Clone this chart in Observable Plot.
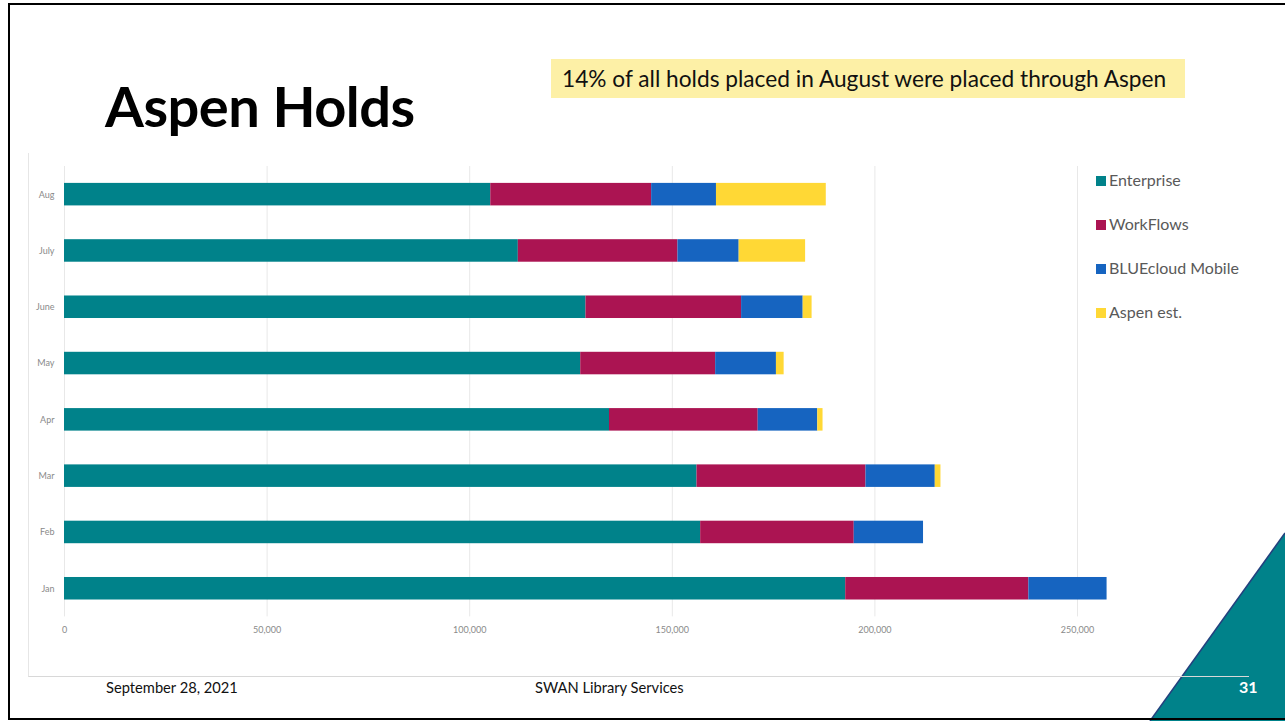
<!DOCTYPE html>
<html>
<head>
<meta charset="utf-8">
<script src="https://cdn.jsdelivr.net/npm/d3@7"></script>
<script src="https://cdn.jsdelivr.net/npm/@observablehq/plot@0.6"></script>
<style>
  body { margin: 0; background: #fff; font-family: Lato, "Open Sans", sans-serif; }
  #slide { position: relative; width: 1285px; height: 721px; overflow: hidden; background: #fff; }
  #border { position: absolute; left: 8px; top: 3px; width: 1290px; height: 713px;
            border-left: 2.5px solid #000; border-top: 2.5px solid #000; border-bottom: 2.5px solid #000; }
  #tri { position: absolute; left: 0; top: 0; }
  #title { position: absolute; left: 105px; top: 72px; font-size: 56px; font-weight: 700; color: #000; letter-spacing: -0.5px; }
  #note { position: absolute; left: 551px; top: 59px; width: 634px; height: 39px; background: #fdf0a6;
          font-size: 22.7px; line-height: 39px; color: #111; padding-left: 11px; box-sizing: border-box; white-space: nowrap; }
  #chart { position: absolute; left: 28px; top: 153px; width: 1220px; height: 523px;
           border-left: 1px solid #e6e6e6; border-bottom: 1px solid #d8d8d8; }
  #legend { position: absolute; left: 1096px; top: 169px; }
  .li { position: absolute; left: 0; width: 200px; height: 22px; font-size: 16px; color: #595959; white-space: nowrap; }
  .sw { position: absolute; left: 0; top: 7px; width: 10px; height: 10px; }
  .lt { position: absolute; left: 13px; top: 1px; }
  .foot { position: absolute; top: 678px; font-size: 14.7px; color: #111; white-space: nowrap; }
  #pg { position: absolute; left: 1239px; top: 677px; font-size: 16px; font-weight: 700; color: #fff; }
</style>
</head>
<body>
<div id="slide">
  <svg id="tri" width="1285" height="721">
    <polygon points="1285,533 1150,721 1285,721" fill="#00828a"></polygon>
    <line x1="1285" y1="533" x2="1150" y2="721" stroke="#23407e" stroke-width="1.5"></line>
  </svg>
  <div id="border"></div>
  <div id="title">Aspen Holds</div>
  <div id="note">14% of all holds placed in August were placed through Aspen</div>
  <div id="chart"></div>
  <div id="legend"></div>
  <div class="foot" style="left:106px">September 28, 2021</div>
  <div class="foot" style="left:535px">SWAN Library Services</div>
  <div id="pg">31</div>
</div>
<script>
const months = ["Jan", "Feb", "Mar", "Apr", "May", "June", "July", "Aug"];
const enterprise = [192800, 157000, 156100, 134500, 127400, 128700, 112000, 105200];
const workflows  = [45200, 37900, 41700, 36700, 33300, 38400, 39400, 39700];
const bluecloud  = [19300, 17100, 17100, 14700, 15000, 15200, 15100, 16000];
const aspen      = [0, 0, 1400, 1300, 1900, 2200, 16400, 27100];
const seriesNames = ["Enterprise", "WorkFlows", "BLUEcloud Mobile", "Aspen est."];
const seriesColors = ["#00828a", "#ab1452", "#1664c0", "#ffd835"];
const xTicks = [0, 50000, 100000, 150000, 200000, 250000];

const seriesValues = [enterprise, workflows, bluecloud, aspen];
const rows = [];
seriesNames.forEach((s, si) => {
  months.forEach((m, mi) => {
    rows.push({ month: m, series: s, value: seriesValues[si][mi] });
  });
});

const chart = Plot.plot({
  width: 1220,
  height: 523,
  marginLeft: 35,
  marginRight: 1220 - 35 - 260 * 4.052,
  marginTop: 13,
  marginBottom: 523 - 13 - 450.4,
  style: { fontFamily: "Lato, sans-serif", fontSize: "9px", color: "#8a8a8a", background: "transparent" },
  x: { domain: [0, 260000], ticks: xTicks, tickFormat: d3.format(","), tickSize: 0, tickPadding: 10, label: null, grid: false },
  y: { domain: months.slice().reverse(), paddingInner: 0.6, paddingOuter: 0.3, round: false, tickSize: 0, tickPadding: 10, label: null },
  color: { domain: seriesNames, range: seriesColors },
  marks: [
    Plot.ruleX(xTicks, { stroke: "#e8e8e8", strokeWidth: 1 }),
    Plot.barX(rows, { y: "month", x: "value", fill: "series", order: seriesNames })
  ]
});
document.getElementById("chart").appendChild(chart);

const legend = document.getElementById("legend");
seriesNames.forEach((s, i) => {
  const d = document.createElement("div");
  d.className = "li";
  d.style.top = (i * 44) + "px";
  d.innerHTML = `<span class="sw" style="background:${seriesColors[i]}"></span><span class="lt">${s}</span>`;
  legend.appendChild(d);
});
</script>
</body>
</html>
